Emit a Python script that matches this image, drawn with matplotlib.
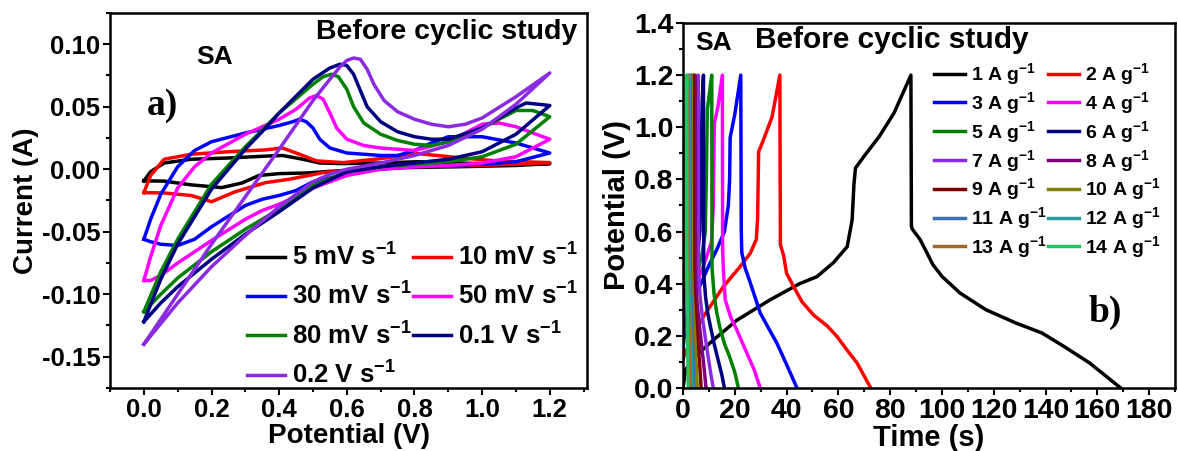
import matplotlib
matplotlib.use("Agg")
import matplotlib.pyplot as plt
from matplotlib.ticker import MultipleLocator, FormatStrFormatter

plt.rcParams['font.family'] = ['Liberation Sans', 'DejaVu Sans']
plt.rcParams['font.weight'] = 'bold'
plt.rcParams['axes.unicode_minus'] = False
plt.rcParams['mathtext.fontset'] = 'custom'
plt.rcParams['mathtext.rm'] = 'Liberation Sans:bold'
plt.rcParams['mathtext.bf'] = 'Liberation Sans:bold'
plt.rcParams['mathtext.default'] = 'bf'

# ---- CV data (a): forward branch 0 -> 1.2 V, then reverse 1.2 -> 0 V
cv_labels = ["5 mV s$^{-1}$", "10 mV s$^{-1}$", "30 mV s$^{-1}$", "50 mV s$^{-1}$",
             "80 mV s$^{-1}$", "0.1 V s$^{-1}$", "0.2 V s$^{-1}$"]
cv_colors = ["black", "#ff0000", "#0000ff", "#ff00ff", "#008000", "#000080", "#8a2be2"]

v5 = [0.0, 0.02, 0.06, 0.14, 0.25, 0.36, 0.41, 0.47, 0.52, 0.59, 0.70, 0.81, 0.93, 1.04, 1.2,
      1.1, 0.93, 0.70, 0.59, 0.48, 0.40, 0.34, 0.29, 0.23, 0.14, 0.06, 0.0]
i5 = [-0.0093, -0.002, 0.005, 0.008, 0.009, 0.0105, 0.011, 0.008, 0.005, 0.0045, 0.005, 0.006, 0.005, 0.0042, 0.0045,
      0.003, 0.002, 0.001, -0.001, -0.003, -0.0035, -0.005, -0.011, -0.0147, -0.0125, -0.0095, -0.0093]

v10 = [0.0, 0.02, 0.06, 0.14, 0.25, 0.36, 0.41, 0.46, 0.51, 0.59, 0.70, 0.81, 0.93, 1.04, 1.2,
       1.1, 0.93, 0.70, 0.53, 0.43, 0.36, 0.27, 0.20, 0.14, 0.06, 0.0]
i10 = [-0.0187, -0.005, 0.008, 0.012, 0.014, 0.0155, 0.017, 0.012, 0.0067, 0.0053, 0.0085, 0.0125, 0.0093, 0.0067, 0.0053,
       0.004, 0.0027, 0.0013, -0.0027, -0.008, -0.0107, -0.018, -0.026, -0.021, -0.019, -0.0187]

v30 = [0.0, 0.02, 0.05, 0.10, 0.15, 0.20, 0.30, 0.40, 0.44, 0.46, 0.48, 0.50, 0.52, 0.55, 0.60, 0.70, 0.75, 0.80, 0.85, 0.90, 1.0, 1.1, 1.2,
       1.1, 1.0, 0.8, 0.7, 0.6, 0.5, 0.45, 0.4, 0.35, 0.3, 0.2, 0.15, 0.1, 0.05, 0.02, 0.0]
i30 = [-0.056, -0.04, -0.02, 0.002, 0.015, 0.022, 0.029, 0.035, 0.038, 0.040, 0.038, 0.033, 0.024, 0.017, 0.013, 0.011, 0.011, 0.015, 0.021, 0.026, 0.026, 0.021, 0.013,
       0.006, 0.004, 0.002, 0.0, -0.004, -0.010, -0.017, -0.021, -0.024, -0.029, -0.046, -0.056, -0.061, -0.060, -0.058, -0.056]

v50 = [0.0, 0.02, 0.05, 0.10, 0.15, 0.20, 0.30, 0.40, 0.45, 0.49, 0.51, 0.53, 0.55, 0.57, 0.60, 0.65, 0.70, 0.80, 0.90, 1.0, 1.05, 1.1, 1.2,
       1.1, 1.0, 0.9, 0.8, 0.7, 0.6, 0.5, 0.45, 0.4, 0.35, 0.3, 0.2, 0.1, 0.05, 0.02, 0.0]
i50 = [-0.089, -0.07, -0.045, -0.015, 0.002, 0.013, 0.028, 0.040, 0.048, 0.057, 0.059, 0.056, 0.045, 0.033, 0.024, 0.019, 0.017, 0.015, 0.022, 0.036, 0.037, 0.034, 0.024,
       0.010, 0.005, 0.003, 0.002, 0.0, -0.005, -0.015, -0.022, -0.028, -0.033, -0.040, -0.057, -0.075, -0.085, -0.089, -0.089]

v80 = [0.0, 0.05, 0.1, 0.2, 0.3, 0.36, 0.4, 0.5, 0.53, 0.555, 0.575, 0.6, 0.62, 0.65, 0.7, 0.75, 0.8, 0.85, 0.9, 1.0, 1.1, 1.15, 1.2,
       1.1, 1.0, 0.9, 0.8, 0.7, 0.6, 0.5, 0.4, 0.35, 0.3, 0.2, 0.1, 0.05, 0.0]
i80 = [-0.114, -0.082, -0.056, -0.012, 0.018, 0.034, 0.045, 0.068, 0.074, 0.076, 0.074, 0.064, 0.050, 0.037, 0.028, 0.023, 0.020, 0.019, 0.022, 0.033, 0.047, 0.047, 0.042,
       0.020, 0.010, 0.006, 0.004, 0.002, -0.002, -0.013, -0.032, -0.040, -0.048, -0.066, -0.087, -0.100, -0.114]

v100 = [0.0, 0.05, 0.1, 0.2, 0.3, 0.36, 0.4, 0.5, 0.55, 0.58, 0.60, 0.62, 0.64, 0.66, 0.70, 0.75, 0.8, 0.85, 0.9, 1.0, 1.1, 1.13, 1.2,
        1.1, 1.0, 0.9, 0.8, 0.7, 0.6, 0.5, 0.4, 0.3, 0.2, 0.1, 0.05, 0.0]
i100 = [-0.122, -0.088, -0.060, -0.016, 0.016, 0.033, 0.045, 0.072, 0.081, 0.084, 0.083, 0.076, 0.063, 0.050, 0.038, 0.030, 0.026, 0.024, 0.024, 0.033, 0.049, 0.053, 0.051,
        0.028, 0.014, 0.008, 0.005, 0.002, -0.002, -0.015, -0.034, -0.052, -0.072, -0.094, -0.107, -0.122]

v200 = [0.0, 0.05, 0.1, 0.2, 0.3, 0.4, 0.5, 0.55, 0.58, 0.60, 0.62, 0.64, 0.66, 0.68, 0.71, 0.75, 0.8, 0.85, 0.9, 0.95, 1.0, 1.1, 1.2,
        1.1, 1.0, 0.9, 0.8, 0.7, 0.6, 0.55, 0.5, 0.4, 0.3, 0.2, 0.1, 0.0]
i200 = [-0.140, -0.120, -0.100, -0.060, -0.022, 0.016, 0.055, 0.072, 0.082, 0.087, 0.089, 0.088, 0.080, 0.068, 0.055, 0.046, 0.040, 0.036, 0.034, 0.036, 0.041, 0.058, 0.077,
        0.052, 0.032, 0.019, 0.011, 0.005, 0.0, -0.004, -0.010, -0.030, -0.053, -0.078, -0.107, -0.140]

cv_v = [v5, v10, v30, v50, v80, v100, v200]
cv_i = [i5, i10, i30, i50, i80, i100, i200]

# ---- GCD data (b): charge then discharge
gcd_labels = [f"{k} A g$^{{-1}}$" for k in range(1, 15)]
gcd_colors = ["black", "#ff0000", "#0000ff", "#ff00ff", "#008000", "#000080", "#8a2be2",
              "#800080", "#800000", "#808000", "#3a6fb0", "#2a9d9d", "#a0662a", "#22c55e"]

t1 = [0, 1, 4.6, 11.7, 20.8, 33.6, 45, 51.7, 58, 63.4, 65.3, 66.0, 66.6, 70, 75.8, 81.5, 88,
      88.2, 88.5, 91.5, 93.6, 96.5, 100, 107, 117, 128.6, 138.6, 147, 157, 169]
u1 = [0.0, 0.07, 0.12, 0.184, 0.26, 0.338, 0.40, 0.427, 0.48, 0.542, 0.644, 0.78, 0.844, 0.89, 0.965, 1.055, 1.2,
      0.62, 0.61, 0.57, 0.53, 0.473, 0.428, 0.364, 0.30, 0.249, 0.211, 0.16, 0.096, 0.0]

t2 = [0, 0.8, 4, 7.8, 15.6, 22, 26, 28.3, 28.8, 29.2, 31, 34.4, 37.4,
      37.6, 38.8, 40, 42.7, 46, 50.4, 55.8, 59.5, 63, 67.2, 72.5]
u2 = [0.11, 0.134, 0.2, 0.273, 0.389, 0.465, 0.517, 0.57, 0.65, 0.906, 0.95, 1.04, 1.2,
      0.55, 0.51, 0.44, 0.389, 0.33, 0.28, 0.237, 0.197, 0.15, 0.096, 0.0]

t3 = [0, 1, 3, 6, 10, 13, 16, 17.5, 18, 18.2, 20, 22.3,
      22.5, 22.7, 24, 26, 29.8, 33, 36.3, 40, 44]
u3 = [0.15, 0.25, 0.32, 0.38, 0.47, 0.53, 0.6, 0.7, 0.8, 0.96, 1.05, 1.2,
      0.6, 0.52, 0.46, 0.403, 0.288, 0.23, 0.171, 0.09, 0.0]

t4 = [0, 1, 3, 6, 9, 11, 11.7, 12.1, 13.5, 15.2,
      15.3, 15.6, 16.3, 18.5, 20.8, 24.7, 27.5, 29.8]
u4 = [0.2, 0.28, 0.35, 0.42, 0.5, 0.56, 0.7, 1.015, 1.08, 1.2,
      0.53, 0.45, 0.338, 0.27, 0.222, 0.133, 0.07, 0.0]

t5 = [0, 0.5, 2, 4, 6, 7.5, 8.6, 9.0, 9.4, 10.2, 11.1,
      11.2, 12, 13, 14.3, 16, 18, 20, 21.4]
u5 = [0.18, 0.25, 0.33, 0.4, 0.46, 0.52, 0.6, 0.8, 1.07, 1.13, 1.2,
      0.46, 0.36, 0.29, 0.23, 0.17, 0.12, 0.06, 0.0]

t6 = [0, 0.5, 2, 4, 5.5, 6.5, 7.0, 7.4, 7.9,
      8.0, 8.7, 9.5, 10.5, 12, 13.5, 15, 16]
u6 = [0.2, 0.27, 0.35, 0.43, 0.5, 0.6, 0.85, 1.1, 1.2,
      0.44, 0.35, 0.29, 0.24, 0.17, 0.11, 0.05, 0.0]

t7 = [0, 0.5, 1.5, 3, 4.3, 5.0, 5.4, 5.9,
      6.0, 6.6, 7.5, 8.5, 9.7, 10.8, 11.7]
u7 = [0.25, 0.32, 0.4, 0.48, 0.57, 0.8, 1.1, 1.2,
      0.44, 0.35, 0.27, 0.2, 0.12, 0.05, 0.0]

t8 = [0, 0.4, 1.5, 2.8, 3.6, 4.2, 4.7, 4.8, 5.4, 6.2, 7.0, 8.0, 8.9]
u8 = [0.3, 0.37, 0.45, 0.53, 0.65, 0.95, 1.2, 0.44, 0.33, 0.25, 0.18, 0.09, 0.0]

t9 = [0, 0.4, 1.3, 2.3, 3.0, 3.5, 3.9, 4.0, 4.5, 5.2, 5.9, 6.5, 7.0]
u9 = [0.35, 0.42, 0.5, 0.58, 0.7, 1.0, 1.2, 0.45, 0.34, 0.25, 0.16, 0.08, 0.0]

t10 = [0, 0.3, 1.0, 1.9, 2.5, 2.9, 3.2, 3.3, 3.7, 4.3, 4.8, 5.2, 5.5]
u10 = [0.4, 0.47, 0.55, 0.63, 0.75, 1.0, 1.2, 0.45, 0.34, 0.24, 0.15, 0.07, 0.0]

t11 = [0, 0.3, 0.9, 1.6, 2.1, 2.4, 2.7, 2.8, 3.1, 3.5, 3.9, 4.3]
u11 = [0.45, 0.52, 0.6, 0.68, 0.8, 1.0, 1.2, 0.45, 0.33, 0.22, 0.1, 0.0]

t12 = [0, 0.2, 0.7, 1.3, 1.7, 2.0, 2.2, 2.3, 2.6, 2.9, 3.2, 3.5]
u12 = [0.5, 0.57, 0.64, 0.72, 0.84, 1.02, 1.2, 0.45, 0.33, 0.22, 0.1, 0.0]

t13 = [0, 0.2, 0.6, 1.0, 1.4, 1.6, 1.8, 1.9, 2.1, 2.35, 2.6, 2.8]
u13 = [0.55, 0.62, 0.69, 0.76, 0.87, 1.04, 1.2, 0.45, 0.33, 0.22, 0.1, 0.0]

t14 = [0, 0.15, 0.4, 0.7, 1.0, 1.2, 1.4, 1.45, 1.6, 1.75, 1.9, 2.0]
u14 = [0.6, 0.67, 0.74, 0.81, 0.9, 1.05, 1.2, 0.45, 0.33, 0.22, 0.1, 0.0]

gcd_t = [t1, t2, t3, t4, t5, t6, t7, t8, t9, t10, t11, t12, t13, t14]
gcd_u = [u1, u2, u3, u4, u5, u6, u7, u8, u9, u10, u11, u12, u13, u14]


def style_axes(ax, size):
    for s in ax.spines.values():
        s.set_linewidth(1.8)
    ax.tick_params(which='both', direction='out', width=1.5, labelsize=size, top=False, right=False)
    ax.tick_params(which='major', length=5, pad=2)
    ax.tick_params(which='minor', length=3)


fig = plt.figure(figsize=(11.78, 4.51), dpi=100)

# ---- panel a
ax1 = fig.add_axes([0.0934, 0.1397, 0.4049, 0.8315])
lines = []
for v, i, c, lab in zip(cv_v, cv_i, cv_colors, cv_labels):
    ln, = ax1.plot(v, i, color=c, lw=2.5, label=lab)
    lines.append(ln)
ax1.set_xlim(-0.1, 1.31)
ax1.set_ylim(-0.175, 0.125)
ax1.xaxis.set_major_locator(MultipleLocator(0.2))
ax1.xaxis.set_minor_locator(MultipleLocator(0.1))
ax1.yaxis.set_major_locator(MultipleLocator(0.05))
ax1.yaxis.set_minor_locator(MultipleLocator(0.025))
ax1.xaxis.set_major_formatter(FormatStrFormatter('%.1f'))
ax1.yaxis.set_major_formatter(FormatStrFormatter('%.2f'))
style_axes(ax1, 18.5)
ax1.set_xlabel("Potential (V)", fontsize=20, fontweight='bold', labelpad=1)
ax1.set_ylabel("Current (A)", fontsize=20, fontweight='bold', labelpad=2)
order = [0, 2, 4, 6, 1, 3, 5]
ax1.legend([lines[k] for k in order], [cv_labels[k] for k in order], ncol=2, frameon=False,
           loc='upper left', bbox_to_anchor=(0.287, 0.385), borderpad=0, borderaxespad=0,
           fontsize=18.5, handlelength=1.5, handletextpad=0.25, columnspacing=0.05, labelspacing=0.47)
ax1.text(0.21, 0.0897, "SA", fontsize=19, ha='center', va='center')
ax1.text(0.055, 0.051, "a)", fontsize=27, ha='center', va='center', family='Liberation Serif')
ax1.text(1.28, 0.110, "Before cyclic study", fontsize=20.5, ha='right', va='center')

# ---- panel b
ax2 = fig.add_axes([0.5798, 0.1397, 0.4177, 0.8093])
glines = []
for t, u, c, lab in zip(gcd_t, gcd_u, gcd_colors, gcd_labels):
    ln, = ax2.plot(t, u, color=c, lw=2.5, label=lab)
    glines.append(ln)
ax2.set_xlim(0, 190)
ax2.set_ylim(0, 1.4)
ax2.xaxis.set_major_locator(MultipleLocator(20))
ax2.xaxis.set_minor_locator(MultipleLocator(10))
ax2.yaxis.set_major_locator(MultipleLocator(0.2))
ax2.yaxis.set_minor_locator(MultipleLocator(0.1))
ax2.yaxis.set_major_formatter(FormatStrFormatter('%.1f'))
style_axes(ax2, 20.5)
ax2.set_xlabel("Time (s)", fontsize=21, fontweight='bold', labelpad=0)
ax2.set_ylabel("Potential (V)", fontsize=21, fontweight='bold', labelpad=2)
gorder = [0, 2, 4, 6, 8, 10, 12, 1, 3, 5, 7, 9, 11, 13]
ax2.legend([glines[k] for k in gorder], [gcd_labels[k] for k in gorder], ncol=2, frameon=False,
           loc='upper left', bbox_to_anchor=(0.51, 0.895), borderpad=0, borderaxespad=0,
           fontsize=14, handlelength=1.6, handletextpad=0.3, columnspacing=0.05, labelspacing=0.15)
ax2.text(11.6, 1.323, "SA", fontsize=19, ha='center', va='center')
ax2.text(80.7, 1.335, "Before cyclic study", fontsize=21.5, ha='center', va='center')
ax2.text(163, 0.29, "b)", fontsize=27, ha='center', va='center', family='Liberation Serif')

fig.savefig("out.png", dpi=100)
